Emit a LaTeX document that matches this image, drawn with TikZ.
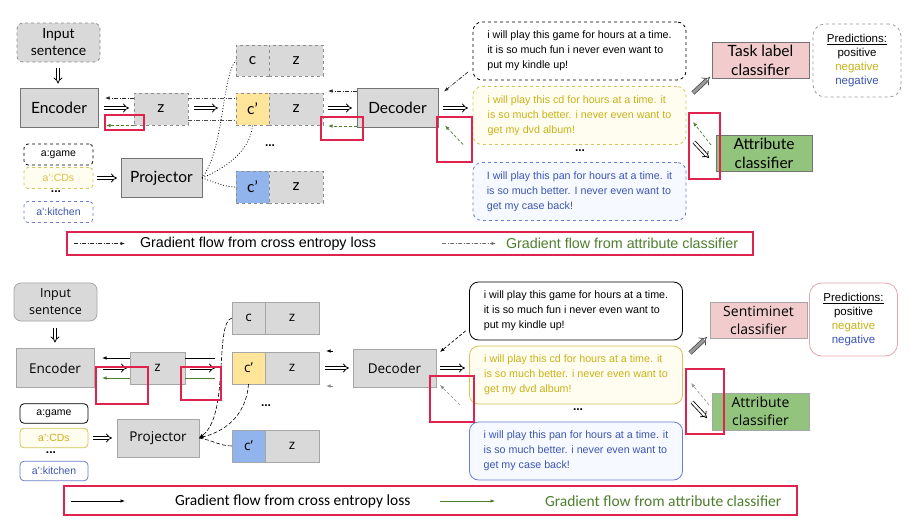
\documentclass[tikz,border=0pt]{standalone}
\usepackage{fontspec}
\setmainfont{Liberation Sans}
\newfontfamily\labA{Lato}
\newfontfamily\labB{Open Sans}
\newfontfamily\carl{Carlito}
\usetikzlibrary{arrows.meta,calc}
\definecolor{boxgray}{HTML}{D9D9D9}
\definecolor{cyel}{HTML}{FFE599}
\definecolor{cblue}{HTML}{92B4EC}
\definecolor{pinkc}{HTML}{F2CCCC}
\definecolor{greenc}{HTML}{93C47D}
\definecolor{yeltxt}{HTML}{C9B21A}
\definecolor{bluetxt}{HTML}{3D56B0}
\definecolor{redbox}{HTML}{E0234E}
\definecolor{gradgreen}{HTML}{4E7F2E}
\definecolor{yelfill}{HTML}{FFFDF0}
\definecolor{bluefill}{HTML}{F6F9FF}
\definecolor{yelline}{HTML}{D2C65A}
\definecolor{blueline}{HTML}{6C7ECC}
\definecolor{pinkline}{HTML}{E6A4AE}
\tikzset{
  every node/.style={inner sep=0pt, outer sep=0pt},
  gboxA/.style={draw=black!55, fill=boxgray, line width=0.9pt, align=center, font=\labA\fontsize{15.5}{19}\selectfont},
  dgboxA/.style={draw=black!45, dashed, fill=boxgray, line width=0.8pt, align=center, font=\labA\fontsize{15.5}{19}\selectfont},
  gboxB/.style={draw=black!35, fill=boxgray, line width=0.8pt, align=center, font=\labB\fontsize{13.5}{18}\selectfont},
  attrA/.style={rounded corners=4pt, dashed, line width=0.8pt, minimum width=69pt, minimum height=21pt, font=\fontsize{10.5}{12}\selectfont},
  attrB/.style={rounded corners=4pt, line width=0.8pt, minimum width=68pt, minimum height=19.5pt, font=\fontsize{10.5}{12}\selectfont},
  txtbox/.style={rounded corners=9pt, line width=0.8pt, minimum width=213pt, minimum height=58pt, align=left, font=\fontsize{10.7}{15}\selectfont},
  predbox/.style={rounded corners=12pt, line width=0.8pt, minimum width=88pt, minimum height=73pt, align=center, font=\fontsize{11.5}{14}\selectfont},
  dbl/.style={double, double distance=2.2pt, line width=0.8pt, -{Implies}},
  grayarr/.style={draw=black!75, double=black!40, double distance=3pt, line width=0.7pt, -{Implies}},
  ddarr/.style={draw=black!85, dash pattern=on 4pt off 1.5pt on 1pt off 1.5pt, line width=0.7pt, -{Latex[length=4.5pt,width=3.5pt]}},
  ddline/.style={draw=black!70, dash pattern=on 4pt off 1.5pt on 1pt off 1.5pt, line width=0.7pt},
  gdarr/.style={draw=gradgreen, dash pattern=on 3pt off 2pt, line width=0.7pt, -{Latex[length=4.5pt,width=3.5pt]}},
  bdarr/.style={draw=black, dash pattern=on 3pt off 2pt, line width=0.7pt, -{Latex[length=4.5pt,width=3.5pt]}},
  barr/.style={draw=black, line width=0.8pt, -{Latex[length=4.5pt,width=3.5pt]}},
  garr/.style={draw=gradgreen, line width=0.8pt, -{Latex[length=4.5pt,width=3.5pt]}},
  redb/.style={draw=redbox, line width=1.4pt},
  dotsn/.style={font=\bfseries\fontsize{12}{12}\selectfont}
}
\begin{document}
\begin{tikzpicture}[x=1pt,y=-1pt]
\fill[white] (0,0) rectangle (916,522);
\useasboundingbox (0,0) rectangle (916,522);

%================ TOP PANEL ================
\node[dgboxA, rounded corners=6pt, minimum width=83pt, minimum height=39pt, font=\labA\fontsize{14}{17}\selectfont] (inp1) at (58.5,42.5) {Input\\sentence};
\node[gboxA, minimum width=78pt, minimum height=39pt] (enc1) at (59,108) {Encoder};
\node[dgboxA, minimum width=54pt, minimum height=32pt] (z1) at (161,109) {z};
\node[dgboxA, minimum width=33pt, minimum height=31pt] (c1a) at (252.5,60.5) {c};
\node[dgboxA, minimum width=54pt, minimum height=31pt] (z1a) at (296,60.5) {z};
\node[dgboxA, fill=cyel, minimum width=33pt, minimum height=32pt] (c1b) at (252.5,109) {c’};
\node[dgboxA, minimum width=54pt, minimum height=32pt] (z1b) at (296,109) {z};
\node[dotsn] (dots1) at (270,146) {...};
\node[dgboxA, fill=cblue, minimum width=33pt, minimum height=32pt] (c1c) at (252.5,187) {c’};
\node[dgboxA, minimum width=54pt, minimum height=32pt] (z1c) at (296,187) {z};
\node[gboxA, minimum width=81pt, minimum height=39pt] (proj1) at (161.5,178) {Projector};
\node[attrA, draw=black] (ag1) at (58.5,154.5) {a:game};
\node[attrA, draw=yelline, fill=yelfill, text=yeltxt!80] (ac1) at (58.5,178) {a’:CDs};
\node[dotsn] (dots1b) at (56,192) {...};
\node[attrA, draw=blueline, text=bluetxt] (ak1) at (58.5,212) {a’:kitchen};
\node[gboxA, minimum width=81pt, minimum height=39pt] (dec1) at (397.5,108) {Decoder};
\node[txtbox, draw=black, dashed] (t1a) at (579.5,51) {i will play this game for hours at a time.\\it is so much fun i never even want to\\put my kindle up!};
\node[txtbox, draw=yelline, dashed, fill=yelfill, text=yeltxt] (t1b) at (579.5,115.5) {i will play this cd for hours at a time. it\\is so much better. i never even want to\\get my dvd album!};
\node[dotsn] (dots1c) at (580,151) {...};
\node[txtbox, draw=blueline, dashed, fill=bluefill, text=bluetxt] (t1c) at (579.5,191.5) {I will play this pan for hours at a time. it\\is so much better. I never even want to\\get my case back!};
\node[gboxA, fill=pinkc, minimum width=97pt, minimum height=36pt] (task1) at (760.5,60) {Task label\\classifier};
\node[predbox, draw=black!40, dashed] (pred1) at (857,60.5) {\underline{Predictions:}\\positive\\\textcolor{yeltxt}{negative}\\\textcolor{bluetxt}{negative}};
\node[gboxA, fill=greenc, minimum width=96pt, minimum height=36pt] (attr1) at (764,153) {Attribute\\classifier};

% connectors top
\draw[dbl, shorten <=6pt, shorten >=5pt] ($(inp1.south)+(-0.5,0)$) -- ($(enc1.north)+(-1,0)$);
\draw[dbl, shorten <=6pt, shorten >=5pt] (enc1.east) -- (enc1.east -| z1.west);
\draw[ddarr] ($(z1.west)+(0,-11)$) -- ($(enc1.east)+(7,-10)$);
\draw[gdarr] ($(z1.west)+(0,16.5)$) -- ($(enc1.east)+(8,17.5)$);
\draw[ddline] ($(z1.east)+(0,-11)$) -- ($(c1b.west)+(0,-11)$);
\draw[ddline] ($(z1.east)+(0,11)$) -- ($(c1b.west)+(0,11)$);
\draw[dbl] ($(z1.east)+(6,-1)$) -- ($(c1b.west)+(-18,-1)$);
\draw[ddarr] ($(dec1.west)+(0,-17)$) -- ($(z1b.east)+(5,-18)$);
\draw[gdarr] ($(dec1.west)+(0,18)$) -- ($(z1b.east)+(5,17)$);
\draw[dbl] ($(z1b.east)+(5,-1)$) -- ($(dec1.west)+(-5,0)$);
\draw[ddarr] ($(t1a.south west)+(-5,-8)$) -- ($(dec1.north east)+(6,3)$);
\draw[dbl] ($(dec1.east)+(5,0)$) -- ($(dec1.east)+(30,0)$);
\draw[gdarr] ($(dec1.south east)+(25,17)$) -- ($(dec1.south east)+(7,-2)$);
\draw[grayarr] ($(task1.south west)+(-19,15)$) -- ($(task1.south west)+(-2,-1)$);
\draw[gdarr] ($(attr1.west)+(-5,-8)$) -- ($(attr1.west)+(-23,-31)$);
\draw[dbl] ($(attr1.west)+(-22,-11)$) -- ($(attr1.west)+(-7,5)$);
\draw[dbl, shorten <=4pt, shorten >=4pt] (ac1.east) -- (proj1.west);
\draw[dotted, line width=0.8pt] (proj1.east) .. controls (224,150) and (222,75) .. (c1a.west);
\draw[dotted, line width=0.8pt] (proj1.east) .. controls (226,168) and (251,150) .. (c1b.south);
\draw[dotted, line width=0.8pt] (proj1.east) .. controls (214,182) and (224,187) .. (c1c.west);

% red boxes top
\draw[redb] (105,115) rectangle (144,130);
\draw[redb] (321,117) rectangle (363,140);
\draw[redb] (437,117) rectangle (472,162);
\draw[redb] (689,113) rectangle (720,179);

% legend top
\node[redb, minimum width=686pt, minimum height=23pt] (leg1) at (410,243.5) {};
\node[anchor=west, font=\fontsize{14.3}{16}\selectfont] (lt1) at (140,243.5) {Gradient flow from cross entropy loss};
\node[anchor=west, font=\fontsize{14.3}{16}\selectfont, text=gradgreen] (lt2) at (506,243.5) {Gradient flow from attribute classifier};
\coordinate (la1) at (74,243.5);
\coordinate (la2) at (442,243.5);
\draw[ddarr] (la1) -- ($(lt1.west)+(-15,0)$);
\draw[ddarr, draw=black!55] (la2) -- ($(lt2.west)+(-10,0)$);

%================ BOTTOM PANEL ================
\node[gboxB, rounded corners=7pt, minimum width=83pt, minimum height=38pt, font=\labB\fontsize{12.5}{17}\selectfont] (inp2) at (55.5,302) {Input\\sentence};
\node[gboxB, minimum width=78pt, minimum height=39pt] (enc2) at (55,368) {Encoder};
\node[gboxB, minimum width=55pt, minimum height=32pt] (z2) at (157.5,368) {z};
\node[gboxB, minimum width=33pt, minimum height=32pt] (c2a) at (248.5,318) {c};
\node[gboxB, minimum width=54pt, minimum height=32pt] (z2a) at (292,318) {z};
\node[gboxB, fill=cyel, minimum width=33pt, minimum height=32pt] (c2b) at (248.5,368) {c’};
\node[gboxB, minimum width=54pt, minimum height=32pt] (z2b) at (292,368) {z};
\node[dotsn] (dots2) at (266,406) {...};
\node[gboxB, fill=cblue, minimum width=33pt, minimum height=32pt] (c2c) at (248.5,446) {c’};
\node[gboxB, minimum width=54pt, minimum height=32pt] (z2c) at (292,446) {z};
\node[gboxB, minimum width=82pt, minimum height=38pt] (proj2) at (158,438) {Projector};
\node[attrB, draw=black] (ag2) at (54,413.5) {a:game};
\node[attrB, draw=yelline, fill=yelfill, text=yeltxt] (ac2) at (54,438) {a’:CDs};
\node[dotsn] (dots2b) at (51,453) {...};
\node[attrB, draw=blueline, text=bluetxt] (ak2) at (54,471) {a’:kitchen};
\node[gboxB, minimum width=83pt, minimum height=38pt] (dec2) at (394.5,368) {Decoder};
\node[txtbox, draw=black] (t2a) at (576,311) {i will play this game for hours at a time.\\it is so much fun i never even want to\\put my kindle up!};
\node[txtbox, draw=yelline, fill=yelfill, text=yeltxt] (t2b) at (576,375) {i will play this cd for hours at a time. it\\is so much better. i never even want to\\get my dvd album!};
\node[dotsn] (dots2c) at (578,410) {...};
\node[txtbox, draw=blueline, fill=bluefill, text=bluetxt] (t2c) at (576,451) {i will play this pan for hours at a time. it\\is so much better. i never even want to\\get my case back!};
\node[gboxB, fill=pinkc, minimum width=97pt, minimum height=36pt, font=\labB\fontsize{14}{18}\selectfont] (sent2) at (758.5,320) {Sentiminet\\classifier};
\node[predbox, draw=pinkline] (pred2) at (853.5,319.5) {\underline{Predictions:}\\positive\\\textcolor{yeltxt}{negative}\\\textcolor{bluetxt}{negative}};
\node[gboxB, fill=greenc, minimum width=97pt, minimum height=37pt, font=\labB\fontsize{14}{18}\selectfont] (attr2) at (760.5,411.5) {Attribute\\classifier};

% connectors bottom
\draw[dbl, shorten <=7pt, shorten >=6pt] ($(inp2.south)+(-0.5,0)$) -- (enc2.north);
\draw[barr] ($(z2.west)+(0,-10)$) -- ($(enc2.east)+(8,-10)$);
\draw[dbl] ($(enc2.east)+(9,0)$) -- ($(z2.west)+(-3,0)$);
\draw[garr] ($(z2.west)+(0,10)$) -- ($(enc2.east)+(8,10)$);
\draw[draw=black, line width=0.8pt] ($(z2.east)+(0,-10)$) -- ($(c2b.west)+(-17,-10)$);
\draw[dbl] ($(z2.east)+(5,0)$) -- ($(c2b.west)+(-17,0)$);
\draw[draw=gradgreen, line width=0.8pt] ($(z2.east)+(0,10)$) -- ($(c2b.west)+(-17,10)$);
\draw[barr] ($(z2b.east)+(14,-17)$) -- ($(z2b.east)+(7,-17)$);
\draw[garr, draw=black!45] ($(z2b.east)+(14,18)$) -- ($(z2b.east)+(7,18)$);
\draw[dbl] ($(z2b.east)+(6,0)$) -- ($(dec2.west)+(-4,0)$);
\draw[bdarr] ($(t2a.south west)+(-4,-9)$) -- ($(dec2.north east)+(4,3)$);
\draw[dbl] ($(dec2.east)+(4,0)$) -- ($(dec2.east)+(29,0)$);
\draw[gdarr, draw=black!45] ($(dec2.south east)+(24,18)$) -- ($(dec2.south east)+(4,-2)$);
\draw[grayarr] ($(sent2.south west)+(-20,15)$) -- ($(sent2.south west)+(-3,-1)$);
\draw[gdarr, draw=black!40] ($(attr2.west)+(-3,-6.5)$) -- ($(attr2.west)+(-21,-28.5)$);
\draw[dbl] ($(attr2.west)+(-20,-9.5)$) -- ($(attr2.west)+(-5,6.5)$);
\draw[dbl, shorten <=5pt, shorten >=5pt] (ac2.east) -- (proj2.west);
\draw[bdarr, dash pattern=on 4pt off 2pt, line width=0.6pt] (c2a.west) .. controls (214,322) and (230,415) .. (proj2.east);
\draw[bdarr, dash pattern=on 4pt off 2pt, line width=0.6pt] (c2b.south) .. controls (246,418) and (222,432) .. (proj2.east);
\draw[draw=black, dash pattern=on 4pt off 2pt, line width=0.6pt] (proj2.east) .. controls (212,440) and (220,446) .. (c2c.west);

% red boxes bottom
\draw[redb] (96,367) rectangle (148,404);
\draw[redb] (181,367) rectangle (221,400);
\draw[redb] (430,376) rectangle (474,422);
\draw[redb] (686,369) rectangle (724,434);

% legend bottom
\node[redb, minimum width=733pt, minimum height=29pt] (leg2) at (430.5,500.5) {};
\node[anchor=west, font=\carl\fontsize{15.5}{18}\selectfont] (lb1) at (175,501) {Gradient flow from cross entropy loss};
\node[anchor=west, font=\carl\fontsize{15.5}{18}\selectfont, text=gradgreen] (lb2) at (545,501) {Gradient flow from attribute classifier};
\coordinate (lc1) at (71,501);
\coordinate (lc2) at (440,501);
\draw[barr, line width=0.7pt] (lc1) -- (125,501);
\draw[garr, line width=0.6pt] (lc2) -- (495,501);
\end{tikzpicture}
\end{document}
